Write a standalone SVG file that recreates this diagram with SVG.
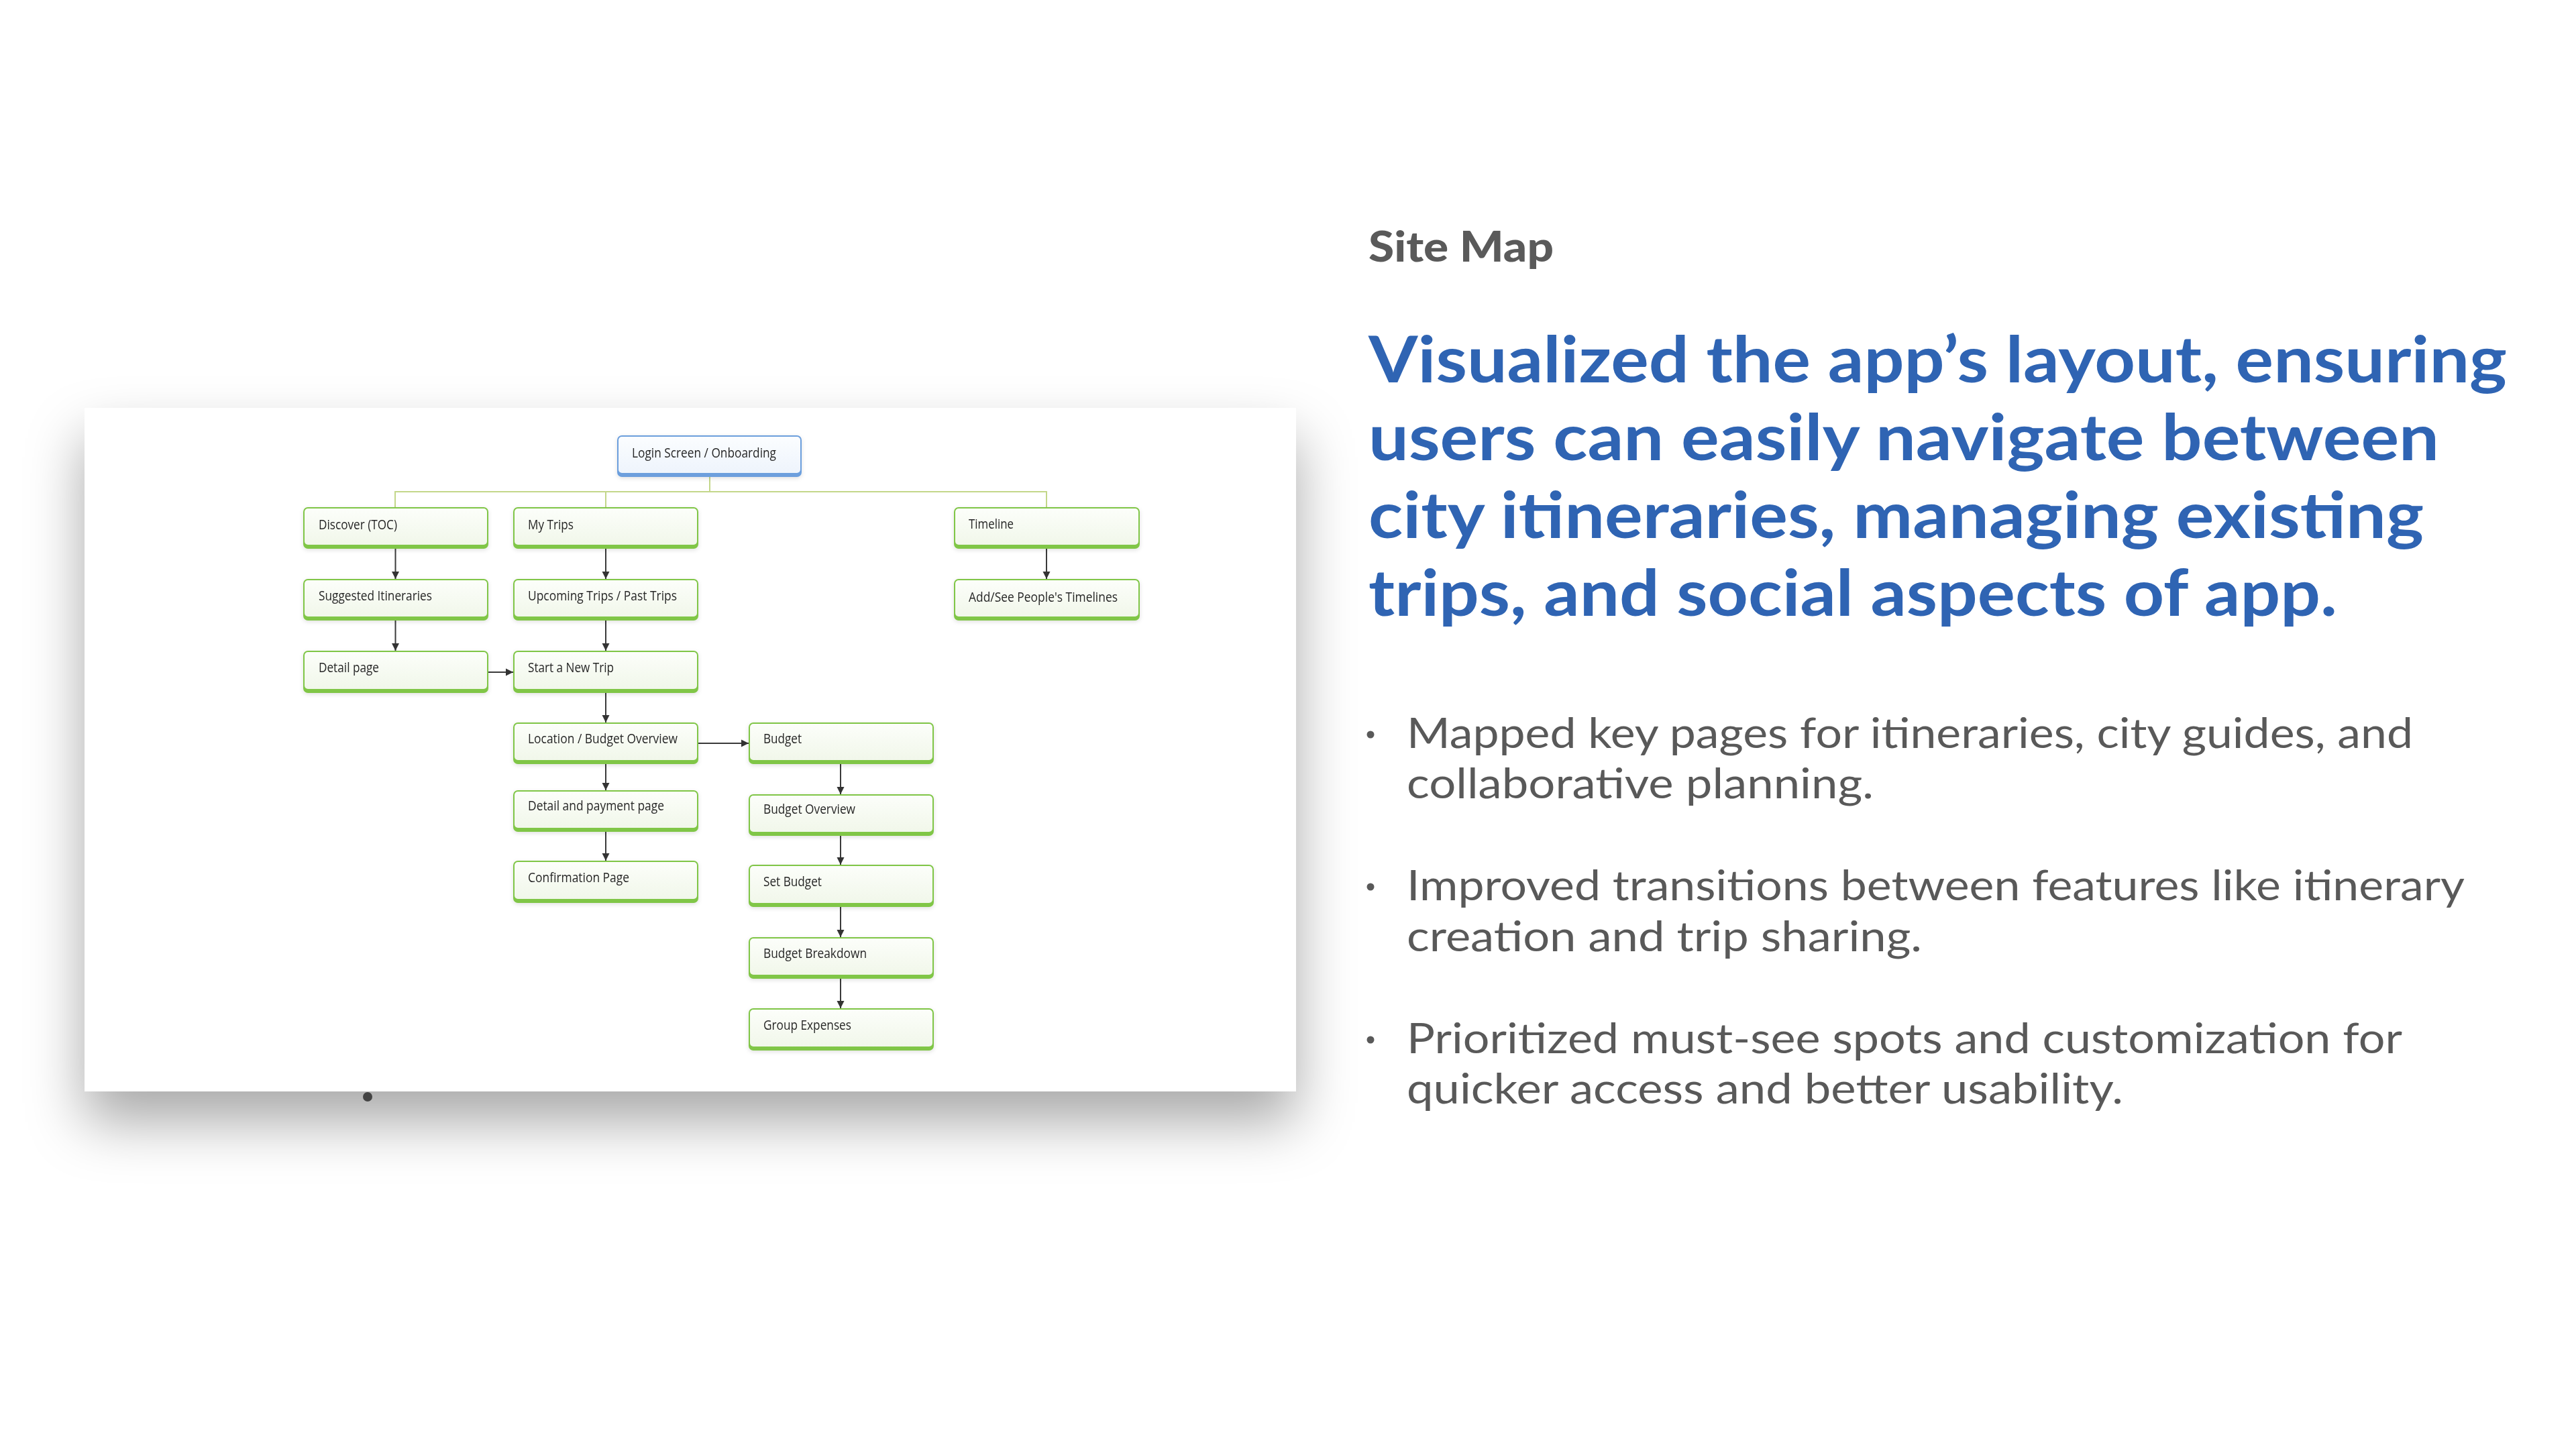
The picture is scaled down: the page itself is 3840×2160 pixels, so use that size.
<svg xmlns="http://www.w3.org/2000/svg" width="3840" height="2160" viewBox="0 0 3840 2160">
<defs>
<style>
.bo{fill:#80c646}
.bi{fill:url(#gfill)}
.lo{fill:#6c9fdd}
.li{fill:url(#bfill)}
.lbl{font-family:"Open Sans","Liberation Sans",sans-serif;font-size:20px;fill:#262626}
.tree{stroke:#c3d78a;stroke-width:2;fill:none}
.arr{stroke:#3a3a3a;stroke-width:2;fill:none;marker-end:url(#ah)}
.hd{font-family:Lato,"Open Sans",sans-serif;font-weight:700;font-size:96px;fill:#2f64b3}
.bl{font-family:Lato,"Open Sans",sans-serif;font-weight:400;font-size:61px;fill:#595959}
.st{font-family:Lato,"Open Sans",sans-serif;font-weight:900;font-size:63px;fill:#5a5a5a}
.node{filter:url(#bs)}
</style>
<linearGradient id="gfill" x1="0" y1="0" x2="0" y2="1">
<stop offset="0" stop-color="#fcfefa"/>
<stop offset="1" stop-color="#f1f7ea"/>
</linearGradient>
<linearGradient id="bfill" x1="0" y1="0" x2="0" y2="1">
<stop offset="0" stop-color="#fbfdff"/>
<stop offset="1" stop-color="#eef4fc"/>
</linearGradient>
<filter id="cardsh" x="-10%" y="-10%" width="120%" height="140%">
<feDropShadow dx="0" dy="45" stdDeviation="42" flood-color="#000" flood-opacity="0.34"/>
</filter>
<filter id="bs" x="-10%" y="-20%" width="120%" height="150%">
<feDropShadow dx="0" dy="2" stdDeviation="3" flood-color="#000" flood-opacity="0.12"/>
</filter>
<marker id="ah" viewBox="0 0 10 10" refX="10" refY="5" markerWidth="11" markerHeight="12" markerUnits="userSpaceOnUse" orient="auto">
<path d="M0,0 L10,5 L0,10 z" fill="#333"/>
</marker>
</defs>
<rect width="3840" height="2160" fill="#ffffff"/>
<rect x="126" y="608" width="1806" height="1019" fill="#ffffff" filter="url(#cardsh)"/>
<ellipse cx="548" cy="1635" rx="7" ry="7" fill="#444"/>

<g id="connectors">
<path class="tree" d="M1058 710 V733 M589 756 V733 H1560 V756 M903 733 V756"/>
<line class="arr" x1="589.5" y1="818" x2="589.5" y2="863"/>
<line class="arr" x1="589.5" y1="925" x2="589.5" y2="970"/>
<line class="arr" x1="903" y1="818" x2="903" y2="863"/>
<line class="arr" x1="903" y1="925" x2="903" y2="970"/>
<line class="arr" x1="903" y1="1033" x2="903" y2="1077"/>
<line class="arr" x1="903" y1="1138" x2="903" y2="1178"/>
<line class="arr" x1="903" y1="1239" x2="903" y2="1283"/>
<line class="arr" x1="728" y1="1002" x2="765" y2="1002"/>
<line class="arr" x1="1041" y1="1108" x2="1116" y2="1108"/>
<line class="arr" x1="1253" y1="1139" x2="1253" y2="1184"/>
<line class="arr" x1="1253" y1="1245" x2="1253" y2="1289"/>
<line class="arr" x1="1253" y1="1352" x2="1253" y2="1397"/>
<line class="arr" x1="1253" y1="1459" x2="1253" y2="1503"/>
<line class="arr" x1="1560" y1="818" x2="1560" y2="863"/>
</g>

<g id="n-login" class="node"><rect class="lo" x="920" y="649" width="275" height="62" rx="7"/><rect class="li" x="922" y="651" width="271" height="54" rx="5"/><text class="lbl" x="942" y="682" font-size="21" textLength="215" lengthAdjust="spacingAndGlyphs">Login Screen / Onboarding</text></g>

<g id="n-discover" class="node"><rect class="bo" x="452" y="756" width="276" height="62" rx="7"/><rect class="bi" x="454" y="758" width="272" height="54" rx="5"/><text class="lbl" x="475" y="789" textLength="117" lengthAdjust="spacingAndGlyphs">Discover (TOC)</text></g>
<g id="n-suggested" class="node"><rect class="bo" x="452" y="863" width="276" height="62" rx="7"/><rect class="bi" x="454" y="865" width="272" height="54" rx="5"/><text class="lbl" x="475" y="895" textLength="169" lengthAdjust="spacingAndGlyphs">Suggested Itineraries</text></g>
<g id="n-detail" class="node"><rect class="bo" x="452" y="970" width="276" height="63" rx="7"/><rect class="bi" x="454" y="972" width="272" height="55" rx="5"/><text class="lbl" x="475" y="1002" textLength="90" lengthAdjust="spacingAndGlyphs">Detail page</text></g>

<g id="n-mytrips" class="node"><rect class="bo" x="765" y="756" width="276" height="62" rx="7"/><rect class="bi" x="767" y="758" width="272" height="54" rx="5"/><text class="lbl" x="787" y="789" textLength="68" lengthAdjust="spacingAndGlyphs">My Trips</text></g>
<g id="n-upcoming" class="node"><rect class="bo" x="765" y="863" width="276" height="62" rx="7"/><rect class="bi" x="767" y="865" width="272" height="54" rx="5"/><text class="lbl" x="787" y="895" textLength="222" lengthAdjust="spacingAndGlyphs">Upcoming Trips / Past Trips</text></g>
<g id="n-start" class="node"><rect class="bo" x="765" y="970" width="276" height="63" rx="7"/><rect class="bi" x="767" y="972" width="272" height="55" rx="5"/><text class="lbl" x="787" y="1002" textLength="128" lengthAdjust="spacingAndGlyphs">Start a New Trip</text></g>
<g id="n-location" class="node"><rect class="bo" x="765" y="1077" width="276" height="62" rx="7"/><rect class="bi" x="767" y="1079" width="272" height="54" rx="5"/><text class="lbl" x="787" y="1108" textLength="223" lengthAdjust="spacingAndGlyphs">Location / Budget Overview</text></g>
<g id="n-payment" class="node"><rect class="bo" x="765" y="1178" width="276" height="62" rx="7"/><rect class="bi" x="767" y="1180" width="272" height="54" rx="5"/><text class="lbl" x="787" y="1208" textLength="203" lengthAdjust="spacingAndGlyphs">Detail and payment page</text></g>
<g id="n-confirm" class="node"><rect class="bo" x="765" y="1283" width="276" height="63" rx="7"/><rect class="bi" x="767" y="1285" width="272" height="55" rx="5"/><text class="lbl" x="787" y="1315" textLength="151" lengthAdjust="spacingAndGlyphs">Confirmation Page</text></g>

<g id="n-timeline" class="node"><rect class="bo" x="1422" y="756" width="277" height="62" rx="7"/><rect class="bi" x="1424" y="758" width="273" height="54" rx="5"/><text class="lbl" x="1444" y="788" textLength="67" lengthAdjust="spacingAndGlyphs">Timeline</text></g>
<g id="n-people" class="node"><rect class="bo" x="1422" y="863" width="277" height="62" rx="7"/><rect class="bi" x="1424" y="865" width="273" height="54" rx="5"/><text class="lbl" x="1444" y="897" textLength="222" lengthAdjust="spacingAndGlyphs">Add/See People's Timelines</text></g>

<g id="n-budget" class="node"><rect class="bo" x="1116" y="1077" width="276" height="62" rx="7"/><rect class="bi" x="1118" y="1079" width="272" height="54" rx="5"/><text class="lbl" x="1138" y="1108" textLength="57" lengthAdjust="spacingAndGlyphs">Budget</text></g>
<g id="n-boverview" class="node"><rect class="bo" x="1116" y="1184" width="276" height="62" rx="7"/><rect class="bi" x="1118" y="1186" width="272" height="54" rx="5"/><text class="lbl" x="1138" y="1213" textLength="137" lengthAdjust="spacingAndGlyphs">Budget Overview</text></g>
<g id="n-setbudget" class="node"><rect class="bo" x="1116" y="1289" width="276" height="63" rx="7"/><rect class="bi" x="1118" y="1291" width="272" height="55" rx="5"/><text class="lbl" x="1138" y="1321" textLength="87" lengthAdjust="spacingAndGlyphs">Set Budget</text></g>
<g id="n-breakdown" class="node"><rect class="bo" x="1116" y="1397" width="276" height="62" rx="7"/><rect class="bi" x="1118" y="1399" width="272" height="54" rx="5"/><text class="lbl" x="1138" y="1428" textLength="154" lengthAdjust="spacingAndGlyphs">Budget Breakdown</text></g>
<g id="n-group" class="node"><rect class="bo" x="1116" y="1503" width="276" height="63" rx="7"/><rect class="bi" x="1118" y="1505" width="272" height="55" rx="5"/><text class="lbl" x="1138" y="1535" textLength="131" lengthAdjust="spacingAndGlyphs">Group Expenses</text></g>

<g id="copy">
<text class="st" x="2040" y="390" textLength="276" lengthAdjust="spacingAndGlyphs">Site Map</text>
<text class="hd" x="2040" y="570" textLength="1697" lengthAdjust="spacingAndGlyphs">Visualized the app’s layout, ensuring</text>
<text class="hd" x="2040" y="686" textLength="1596" lengthAdjust="spacingAndGlyphs">users can easily navigate between</text>
<text class="hd" x="2040" y="802" textLength="1573" lengthAdjust="spacingAndGlyphs">city itineraries, managing existing</text>
<text class="hd" x="2040" y="918" textLength="1444" lengthAdjust="spacingAndGlyphs">trips, and social aspects of app.</text>
<circle cx="2043" cy="1095" r="5.5" fill="#595959"/>
<circle cx="2043" cy="1322" r="5.5" fill="#595959"/>
<circle cx="2043" cy="1550" r="5.5" fill="#595959"/>
<text class="bl" x="2097" y="1115" textLength="1500" lengthAdjust="spacingAndGlyphs">Mapped key pages for itineraries, city guides, and</text>
<text class="bl" x="2097" y="1190" textLength="696" lengthAdjust="spacingAndGlyphs">collaborative planning.</text>
<text class="bl" x="2097" y="1342" textLength="1577" lengthAdjust="spacingAndGlyphs">Improved transitions between features like itinerary</text>
<text class="bl" x="2097" y="1418" textLength="768" lengthAdjust="spacingAndGlyphs">creation and trip sharing.</text>
<text class="bl" x="2097" y="1570" textLength="1484" lengthAdjust="spacingAndGlyphs">Prioritized must-see spots and customization for</text>
<text class="bl" x="2097" y="1645" textLength="1068" lengthAdjust="spacingAndGlyphs">quicker access and better usability.</text>
</g>
</svg>
